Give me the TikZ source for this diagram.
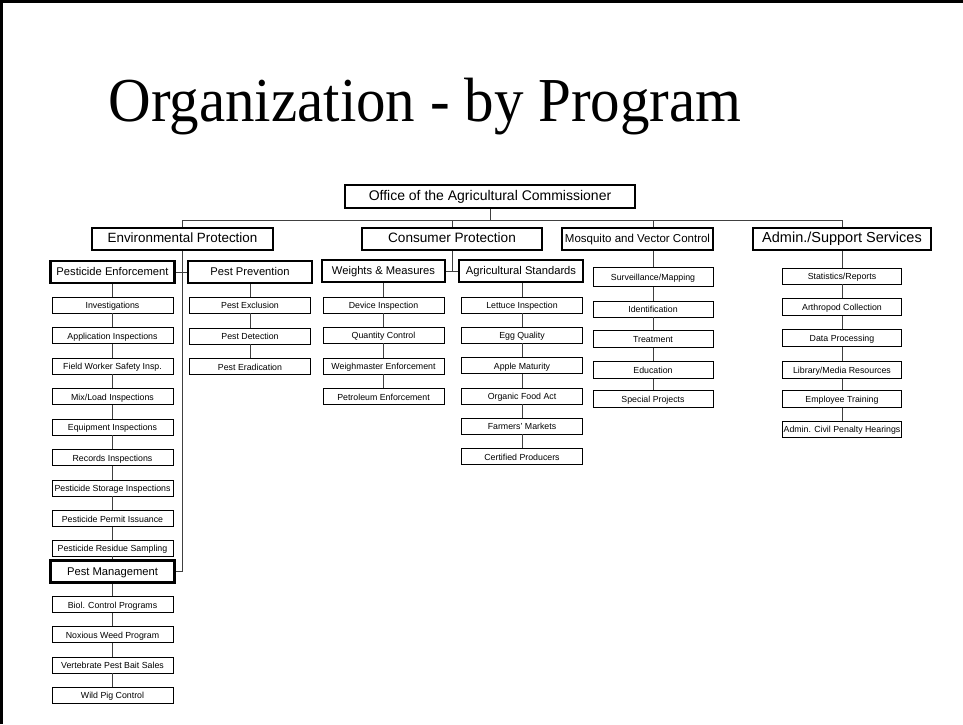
\documentclass[tikz,border=0pt]{standalone}
\usepackage{fontspec}
\setmainfont{Liberation Sans}
\newfontfamily\titlefont{Liberation Serif}
\usepackage{graphicx}
\usepackage{tikz}

\begin{document}
\begin{tikzpicture}[x=1pt,y=-1pt]
\tikzstyle{office}=[rectangle,draw,line width=2.4pt,inner sep=0pt,minimum width=290pt,minimum height=23pt,text height=0.72em,text depth=0pt,font=\fontsize{14}{16}\selectfont];
\tikzstyle{program}=[rectangle,draw,line width=2.4pt,inner sep=0pt,minimum height=22pt,text height=0.72em,text depth=0pt];
\tikzstyle{unit}=[rectangle,draw,line width=2.2pt,inner sep=0pt,minimum width=124pt,minimum height=22pt,text height=0.72em,text depth=0pt,font=\fontsize{11.2}{13}\selectfont];
\tikzstyle{task}=[rectangle,draw,line width=0.8pt,inner sep=0pt,minimum width=121pt,minimum height=16pt,text height=0.72em,text depth=0pt,font=\fontsize{8.8}{10}\selectfont];
\tikzstyle{link}=[line width=0.8pt,black!75];
\useasboundingbox (0,0) rectangle (963,724);
\draw[line width=3pt] (1.5,724) -- (1.5,1.5) -- (963,1.5);
\node[anchor=base](title) at (425,121){\titlefont\fontsize{59}{60}\selectfont\scalebox{1}[1.06]{Organization - by Program}};
\node[office](office) at (490,196.5){Office of the Agricultural Commissioner};
\node[program,minimum width=181pt,font=\fontsize{13.4}{15}\selectfont](ep) at (182.5,239){Environmental Protection};
\node[program,minimum width=180pt,font=\fontsize{13.6}{15}\selectfont](cp) at (452,239){Consumer Protection};
\node[program,minimum width=151pt,font=\fontsize{11.5}{13}\selectfont](mvc) at (637.5,239){Mosquito and Vector Control};
\node[program,minimum width=178pt,font=\fontsize{14.5}{16}\selectfont](admin) at (842,239){Admin./Support Services};
% Environmental Protection
\node[unit](pe) at (112.5,272){Pesticide Enforcement};
\node[task](inv) at (112.5,305){Investigations};
\node[task](appl) at (112.5,335.5){Application Inspections};
\node[task](fws) at (112.5,366){Field Worker Safety Insp.};
\node[task](mix) at (112.5,396.5){Mix/Load Inspections};
\node[task](equip) at (112.5,427){Equipment Inspections};
\node[task](rec) at (112.5,457.5){Records Inspections};
\node[task](stor) at (112.5,488){Pesticide Storage Inspections};
\node[task](perm) at (112.5,518.5){Pesticide Permit Issuance};
\node[task](resid) at (112.5,548){Pesticide Residue Sampling};
\node[unit](pm) at (112.5,571.5){Pest Management};
\node[task](biol) at (112.5,604.5){Biol. Control Programs};
\node[task](nox) at (112.5,634.5){Noxious Weed Program};
\node[task](vert) at (112.5,665){Vertebrate Pest Bait Sales};
\node[task](pig) at (112.5,695){Wild Pig Control};
\node[unit](pp) at (250,272){Pest Prevention};
\node[task](excl) at (250,305){Pest Exclusion};
\node[task](det) at (250,336){Pest Detection};
\node[task](erad) at (250,366.5){Pest Eradication};
% Consumer Protection
\node[unit,minimum width=123pt](wm) at (383.5,271){Weights \& Measures};
\node[task](dev) at (383.5,305){Device Inspection};
\node[task](qty) at (383.5,335){Quantity Control};
\node[task](wgh) at (383.5,366){Weighmaster Enforcement};
\node[task](pet) at (383.5,396.5){Petroleum Enforcement};
\node[unit](as) at (521,271){Agricultural Standards};
\node[task](let) at (522,305){Lettuce Inspection};
\node[task](egg) at (522,335){Egg Quality};
\node[task](apple) at (522,365.5){Apple Maturity};
\node[task](org) at (522,396){Organic Food Act};
\node[task](farm) at (522,426){Farmers' Markets};
\node[task](cert) at (522,456.5){Certified Producers};
% Mosquito and Vector Control
\node[task,minimum width=120pt,minimum height=19pt](surv) at (653,277){Surveillance/Mapping};
\node[task,minimum width=120pt](ident) at (653,309){Identification};
\node[task,minimum width=120pt,minimum height=17pt](treat) at (653,339){Treatment};
\node[task,minimum width=120pt,minimum height=17pt](edu) at (653,370){Education};
\node[task,minimum width=120pt,minimum height=17pt](spec) at (653,399){Special Projects};
% Admin./Support Services
\node[task,minimum width=119pt](stat) at (842,276){Statistics/Reports};
\node[task,minimum width=119pt,minimum height=17pt](arth) at (842,307){Arthropod Collection};
\node[task,minimum width=119pt,minimum height=17pt](data) at (842,338){Data Processing};
\node[task,minimum width=119pt,minimum height=17pt](lib) at (842,370){Library/Media Resources};
\node[task,minimum width=119pt,minimum height=17pt](emp) at (842,399){Employee Training};
\node[task,minimum width=119pt](civ) at (842,429){Admin. Civil Penalty Hearings};
% connectors
\coordinate (bus) at (182.5,220);
\draw[link] (office) -- (office |- bus);
\draw[link] (ep) -- (ep |- bus) -| (admin);
\draw[link] (cp) -- (cp |- bus);
\draw[link] (mvc.north -| surv) -- (surv |- bus);
\draw[link] (pe) -- (pp);
\draw[link] (ep) |- (pm);
\draw[link] (cp) |- (wm);
\draw[link] (wm) -- (as);
\draw[link] (pe) -- (inv) -- (appl) -- (fws) -- (mix) -- (equip) -- (rec) -- (stor) -- (perm) -- (resid) -- (pm) -- (biol) -- (nox) -- (vert) -- (pig);
\draw[link] (pp) -- (excl) -- (det) -- (erad);
\draw[link] (wm) -- (dev) -- (qty) -- (wgh) -- (pet);
\draw[link] (as.south -| let) -- (let) -- (egg) -- (apple) -- (org) -- (farm) -- (cert);
\draw[link] (mvc.south -| surv) -- (surv) -- (ident) -- (treat) -- (edu) -- (spec);
\draw[link] (admin) -- (stat) -- (arth) -- (data) -- (lib) -- (emp) -- (civ);
\end{tikzpicture}
\end{document}
